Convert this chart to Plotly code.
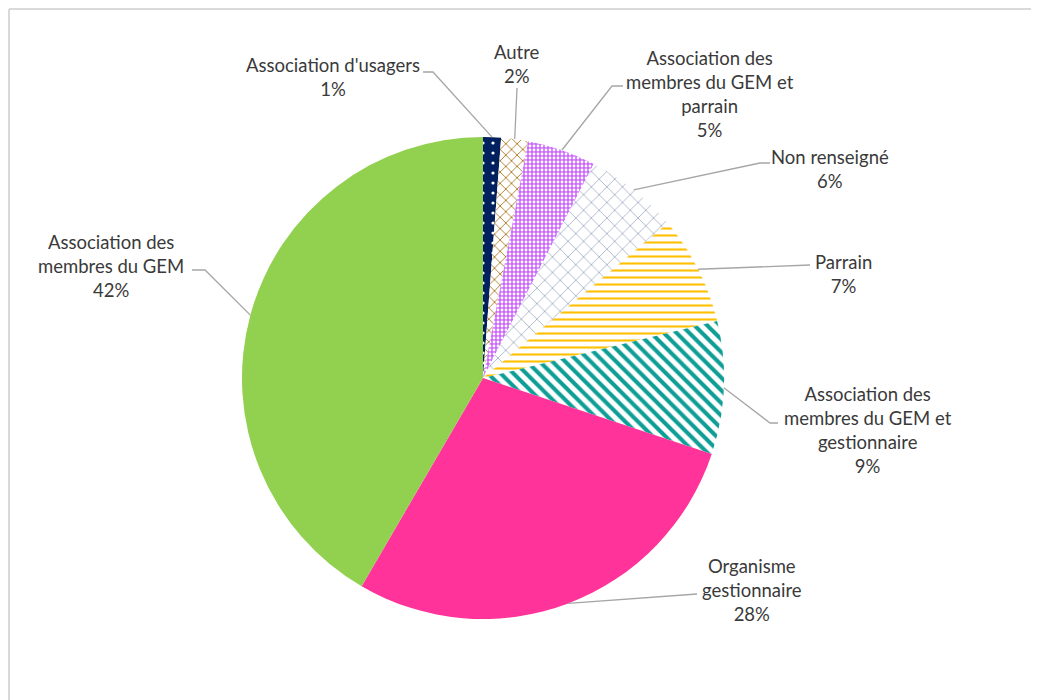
import math
import plotly.graph_objects as go

# ---- data ----
categories = [
    "Association d'usagers",
    "Autre",
    "Association des membres du GEM et parrain",
    "Non renseigné",
    "Parrain",
    "Association des membres du GEM et gestionnaire",
    "Organisme gestionnaire",
    "Association des membres du GEM",
]
label_lines = [
    ["Association d'usagers"],
    ["Autre"],
    ["Association des", "membres du GEM et", "parrain"],
    ["Non renseigné"],
    ["Parrain"],
    ["Association des", "membres du GEM et", "gestionnaire"],
    ["Organisme", "gestionnaire"],
    ["Association des", "membres du GEM"],
]
values = [1.2, 1.8, 4.6, 6.3, 7.3, 8.9, 28.3, 41.6]

# ---- styles ----
base_colors = ["#002060", "#FFFFFF", "#CC66FF", "#FFFFFF", "#FFFFFF", "#FFFFFF", "#FF3399", "#92D050"]
pat_shapes = [".", "x", ".", "x", "-", "\\", "", ""]
pat_fg = ["#FFFFFF", "#B07D2B", "#FFFFFF", "#A5B2C6", "#FFC000", "#0E9E96", "#FF3399", "#92D050"]
pat_size = [10, 8, 4, 11, 7, 9, 8, 8]
pat_solid = [0.08, 0.22, 0.4, 0.15, 0.3, 0.45, 0.3, 0.3]

# ---- layout geometry (window pixels) ----
OFF = 8                       # page body margin
W, H = 1039 - OFF, 700 - OFF  # figure size
CX, CY, R = 483, 378, 241
TEXT_COLOR = "#3A3A3A"
LINE_COLOR = "#A6A6A6"
FONT = "Lato, 'Liberation Sans', Arial, sans-serif"
FONT_SIZE = 18.5

# label text centres and leader-line path points (label side), in window pixels
label_pos = [(333, 77), (517, 64), (710, 94), (830, 169), (843, 274), (868, 430), (752, 590), (111, 266)]
leader_pts = [
    [(433, 72), (423, 72)],
    [(517, 88)],
    [(612, 86), (623, 86)],
    [(760, 163), (770, 163)],
    [(810, 265)],
    [(770, 423), (778, 423)],
    [(697, 594)],
    [(205, 270), (192, 270)],
]


def px(x):
    return (x - OFF) / W


def py(y):
    return 1 - (y - OFF) / H


fig = go.Figure(
    go.Pie(
        labels=categories,
        values=values,
        sort=False,
        direction="clockwise",
        rotation=0,
        textinfo="none",
        hoverinfo="label+percent",
        marker=dict(
            colors=base_colors,
            line=dict(width=0),
            pattern=dict(
                shape=pat_shapes,
                fgcolor=pat_fg,
                bgcolor=base_colors,
                size=pat_size,
                solidity=pat_solid,
                fillmode="replace",
            ),
        ),
        domain=dict(x=[px(CX - R), px(CX + R)], y=[py(CY + R), py(CY - R)]),
        showlegend=False,
    )
)

total = sum(values)
shapes = []
annotations = []
cum = 0.0
for i, v in enumerate(values):
    mid = (cum + v / 2) / total * 2 * math.pi
    cum += v
    ex = CX + R * math.sin(mid)
    ey = CY - R * math.cos(mid)
    pts = [(ex, ey)] + leader_pts[i]
    path = "M " + " L ".join(f"{px(x):.5f},{py(y):.5f}" for x, y in pts)
    shapes.append(dict(type="path", xref="paper", yref="paper", path=path,
                       line=dict(color=LINE_COLOR, width=1.3)))
    pct = round(v / total * 100)
    text = "<br>".join(label_lines[i] + [f"{pct}%"])
    lx, ly = label_pos[i]
    annotations.append(dict(x=px(lx), y=py(ly), xref="paper", yref="paper", text=text,
                            showarrow=False, xanchor="center", yanchor="middle", align="center",
                            font=dict(family=FONT, size=FONT_SIZE, color=TEXT_COLOR)))

# chart frame (left and top edges)
frame = dict(color="#D9D9D9", width=2)
shapes.append(dict(type="line", xref="paper", yref="paper",
                   x0=px(9), x1=px(9), y0=0, y1=py(9), line=frame))
shapes.append(dict(type="line", xref="paper", yref="paper",
                   x0=px(9), x1=1, y0=py(9), y1=py(9), line=frame))

fig.update_layout(
    width=W, height=H,
    margin=dict(l=0, r=0, t=0, b=0),
    paper_bgcolor="white",
    plot_bgcolor="white",
    shapes=shapes,
    annotations=annotations,
    showlegend=False,
)

fig.write_html("out.html")
